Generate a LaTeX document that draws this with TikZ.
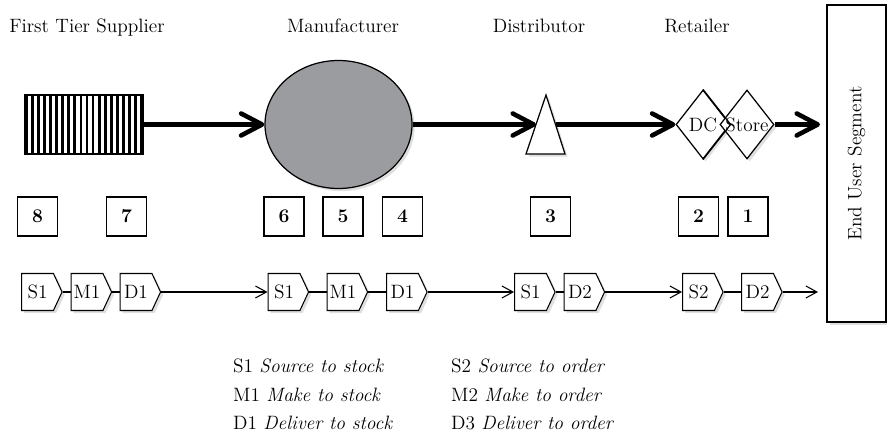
\documentclass[tikz,border=0pt]{standalone}
\usetikzlibrary{arrows.meta,shapes.geometric,shapes.symbols,shadows}
\definecolor{cinzafab}{RGB}{155,156,160}
\begin{document}
\begin{tikzpicture}[x=0.2mm, y=-0.2mm, font=\fontsize{11}{13}\selectfont]

  % ── Estilos ────────────────────────────────────────────────
  \tikzset{
    sombra/.style = {drop shadow={opacity=0.25, shadow xshift=1.5pt, shadow yshift=-1.5pt}},
    fluxo/.style  = {line width=2.6pt, -{Straight Barb[length=4.2mm, width=4.4mm, round]}},
    liga/.style   = {line width=0.6pt},
    ligaseta/.style = {line width=0.6pt, -{Straight Barb[length=2.2mm, width=2.4mm]}},
    etapa/.style  = {signal, signal to=east, signal from=nowhere, signal pointer angle=130,
                     draw, line width=0.6pt, fill=white, sombra, inner sep=0pt,
                     minimum width=8.1mm, minimum height=7.4mm},
    numero/.style = {draw, line width=0.8pt, minimum width=8mm, minimum height=7.8mm,
                     inner sep=0pt, font=\fontsize{11}{13}\selectfont\bfseries},
    loja/.style   = {diamond, draw, line width=0.7pt, fill=white, sombra, inner sep=0pt,
                     minimum width=10.8mm, minimum height=13.8mm}
  }

  \useasboundingbox (0,0) rectangle (887,437);

  % =========================================================
  % 1. TITULOS E CLIENTE FINAL
  % =========================================================
  \node[anchor=base] (titforn) at (87,33) {First Tier Supplier};
  \node[anchor=base] (titfab)  at (343,33) {Manufacturer};
  \node[anchor=base] (titdist) at (539,33) {Distributor};
  \node[anchor=base] (titvar)  at (697,33) {Retailer};

  \node[draw, line width=0.8pt, fill=white, sombra, rotate=90,
        minimum width=63.4mm, minimum height=11.8mm] (cliente) at (856.5,163.5) {End User Segment};

  % =========================================================
  % 2. FLUXO FISICO (linha grossa)
  % =========================================================
  \node[draw, line width=0.6pt, minimum width=23.6mm, minimum height=11.8mm,
        inner sep=0pt] (fornecedor) at (84,124.5) {};
  \foreach \i in {0,...,19}
    \fill (25+\i*6.06, 95) rectangle ++(2.8,59);

  \node[ellipse, draw, line width=0.7pt, fill=cinzafab, sombra,
        minimum width=29.4mm, minimum height=25.6mm] (fabricante) at (338.5,124.5) {};

  % Distribuidor (triangulo)
  \filldraw[fill=white, line width=0.7pt, sombra] (546,95) -- (565,154) -- (526,154) -- cycle;
  \coordinate (distent) at (536,124.5);
  \coordinate (distsai) at (556,124.5);

  % Varejo: DC e Store
  \node[loja] (dc)    at (703,124.5) {};
  \node[loja] (store) at (747,124.5) {};
  \draw[line width=0.7pt] (dc.north) -- (dc.east) -- (dc.south);
  \node (dctxt)    at (dc)    {DC};
  \node (storetxt) at (store) {Store};
  \coordinate (fimvar) at (820,124.5);

  \draw[fluxo] (fornecedor.east) -- (fabricante.west);
  \draw[fluxo] (fabricante.east) -- (distent);
  \draw[fluxo] (distsai) -- (dc.west);
  \draw[fluxo] (store.east) -- (fimvar);

  % =========================================================
  % 3. NUMEROS
  % =========================================================
  \node[numero] (n8) at (37.5,216.5) {8};
  \node[numero] (n7) at (126.5,216.5) {7};
  \node[numero] (n6) at (284,216.5) {6};
  \node[numero] (n5) at (343,216.5) {5};
  \node[numero] (n4) at (402.5,216.5) {4};
  \node[numero] (n3) at (550.5,216.5) {3};
  \node[numero] (n2) at (698.5,216.5) {2};
  \node[numero] (n1) at (748,216.5) {1};

  % =========================================================
  % 4. PROCESSOS SCOR
  % =========================================================
  \node[etapa] (s1a) at (37.5,292) {S1};
  \node[etapa] (m1a) at (87,292) {M1};
  \node[etapa] (d1a) at (136,292) {D1};
  \node[etapa] (s1b) at (284,292) {S1};
  \node[etapa] (m1b) at (343,292) {M1};
  \node[etapa] (d1b) at (402.5,292) {D1};
  \node[etapa] (s1c) at (530.5,292) {S1};
  \node[etapa] (d2c) at (580,292) {D2};
  \node[etapa] (s2d) at (698.5,292) {S2};
  \node[etapa] (d2d) at (757.5,292) {D2};
  \coordinate (fimetapa) at (818,292);

  \draw[liga] (s1a.east) -- (m1a.west);
  \draw[liga] (m1a.east) -- (d1a.west);
  \draw[ligaseta] (d1a.east) -- (s1b.west);
  \draw[liga] (s1b.east) -- (m1b.west);
  \draw[liga] (m1b.east) -- (d1b.west);
  \draw[ligaseta] (d1b.east) -- (s1c.west);
  \draw[liga] (s1c.east) -- (d2c.west);
  \draw[ligaseta] (d2c.east) -- (s2d.west);
  \draw[liga] (s2d.east) -- (d2d.west);
  \draw[ligaseta] (d2d.east) -- (fimetapa);

  % =========================================================
  % 5. LEGENDA
  % =========================================================
  \node[anchor=base west] (leg1) at (227,373) {S1 \textit{Source to stock}};
  \node[anchor=base west] (leg2) at (227,402) {M1 \textit{Make to stock}};
  \node[anchor=base west] (leg3) at (227,430) {D1 \textit{Deliver to stock}};
  \node[anchor=base west] (leg4) at (445,373) {S2 \textit{Source to order}};
  \node[anchor=base west] (leg5) at (445,402) {M2 \textit{Make to order}};
  \node[anchor=base west] (leg6) at (445,430) {D3 \textit{Deliver to order}};

\end{tikzpicture}
\end{document}
